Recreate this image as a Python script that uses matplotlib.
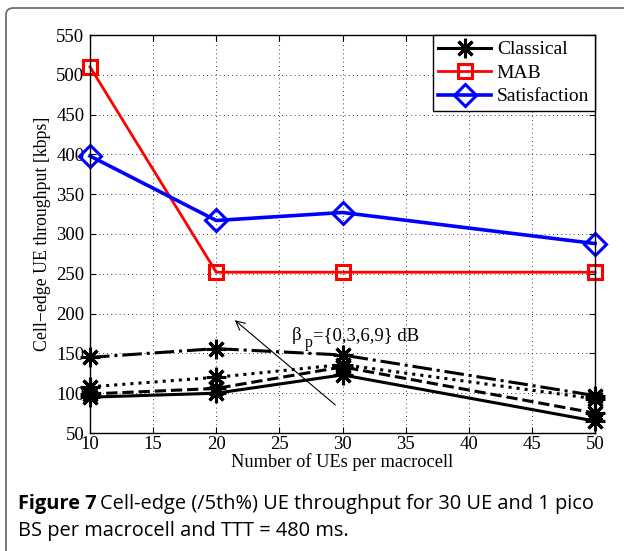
import matplotlib
matplotlib.use("Agg")
import matplotlib.pyplot as plt
from matplotlib.patches import FancyBboxPatch
from matplotlib.lines import Line2D

# data
ues = [10, 20, 30, 50]
mab = [510, 252, 252, 252]
satisfaction = [398, 317, 327, 288]
classical_0 = [95, 100, 123, 65]
classical_3 = [99, 106, 133, 75]
classical_6 = [108, 120, 136, 93]
classical_9 = [145, 156, 148, 97]
classical_runs = [classical_0, classical_3, classical_6, classical_9]
classical_styles = ["-", "--", ":", "-."]
x_ticks = [10, 15, 20, 25, 30, 35, 40, 45, 50]
y_ticks = [50, 100, 150, 200, 250, 300, 350, 400, 450, 500, 550]

plt.rcParams["font.family"] = ["Liberation Serif", "DejaVu Serif"]

fig = plt.figure(figsize=(6.24, 5.51), dpi=100)

# rounded frame round the figure panel (runs off the right and bottom)
frame = FancyBboxPatch((6 / 624, -0.05), 1.2, 1 - 8 / 551 + 0.05,
                       boxstyle="round,pad=0,rounding_size=0.012",
                       transform=fig.transFigure, fill=False,
                       edgecolor="#6f6f6f", linewidth=1.3, zorder=0)
fig.patches.append(frame)

ax = fig.add_axes([90 / 624, 1 - 433 / 551, 505 / 624, 398 / 551])

star = (8, 2, 0)
for vals, ls in zip(classical_runs, classical_styles):
    ax.plot(ues, vals, color="black", linestyle=ls, linewidth=2.2,
            marker=star, markersize=14, markeredgewidth=2.2, clip_on=False)

ax.plot(ues, mab, color="red", linewidth=2.0, marker="s", markersize=10,
        markerfacecolor="none", markeredgewidth=2.2, clip_on=False)
ax.plot(ues, satisfaction, color="blue", linewidth=2.6, marker="D",
        markersize=11, markerfacecolor="none", markeredgewidth=2.2, clip_on=False)

ax.set_xlim(10, 50)
ax.set_ylim(50, 550)
ax.set_xticks(x_ticks)
ax.set_yticks(y_ticks)
ax.tick_params(direction="in", labelsize=13.5, length=4, width=0.8,
               top=True, right=True, pad=4)
ax.tick_params(axis="x", pad=2)
ax.grid(True, color="black", linestyle=(0, (1, 4)), linewidth=0.6)
for sp in ax.spines.values():
    sp.set_linewidth(1.0)

ax.set_xlabel("Number of UEs per macrocell", fontsize=13.2, labelpad=0)
ax.set_ylabel("Cell\u2212edge UE throughput [kbps]", fontsize=12.8, labelpad=4)

ax.annotate("", xy=(21.3, 194), xytext=(29.6, 83),
            arrowprops=dict(arrowstyle="->", color="black", lw=0.8,
                            mutation_scale=16))
# beta with a low, nearly full-size subscript p
anchor = (26.0, 167)
ax.annotate("\u03b2", xy=anchor, xytext=(0, 0), textcoords="offset points",
            fontsize=13.5, va="baseline")
ax.annotate("p", xy=anchor, xytext=(9.0, -5), textcoords="offset points",
            fontsize=11.5, va="baseline")
ax.annotate("={0,3,6,9} dB", xy=anchor, xytext=(15.2, 0),
            textcoords="offset points", fontsize=13.5, va="baseline")

handles = [
    Line2D([], [], color="black", linewidth=2.2, marker=star, markersize=14,
           markeredgewidth=2.2),
    Line2D([], [], color="red", linewidth=2.0, marker="s", markersize=10,
           markerfacecolor="none", markeredgewidth=2.2),
    Line2D([], [], color="blue", linewidth=2.6, marker="D", markersize=11,
           markerfacecolor="none", markeredgewidth=2.2),
]
leg = ax.legend(handles, ["Classical", "MAB", "Satisfaction"], loc="upper right",
                borderaxespad=0, fontsize=14, fancybox=False, framealpha=1,
                edgecolor="black", handlelength=2.7, handletextpad=0.3,
                labelspacing=0.3, borderpad=0.3)
leg.get_frame().set_linewidth(1.0)

# caption: bold "Figure 7" followed by regular text
cap_font = ["Open Sans", "DejaVu Sans"]
cap_size = 14.4
x0 = 18 / 624
y1 = 1 - 504 / 551
y2 = 1 - 531 / 551
t = fig.text(x0, y1, "Figure 7", fontsize=cap_size, fontweight="bold",
             family=cap_font, va="center")
fig.canvas.draw()
bb = t.get_window_extent(renderer=fig.canvas.get_renderer())
fig.text(bb.x1 / fig.bbox.width + 0.006, y1,
         "Cell-edge (/5th%) UE throughput for 30 UE and 1 pico",
         fontsize=cap_size, family=cap_font, va="center")
fig.text(x0, y2, "BS per macrocell and TTT = 480 ms.", fontsize=cap_size,
         family=cap_font, va="center")

fig.savefig("out.png", dpi=100)
